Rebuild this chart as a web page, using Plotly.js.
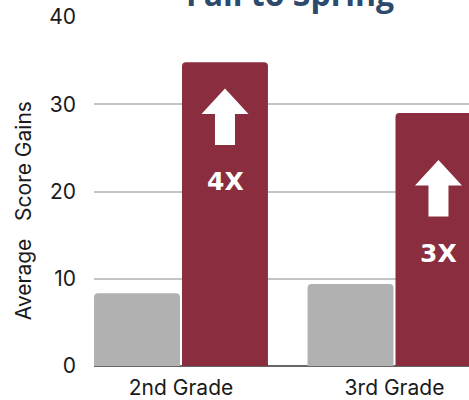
<!DOCTYPE html>
<html><head><meta charset="utf-8">
<script src="https://cdn.plot.ly/plotly-3.0.1.min.js"></script>
<style>html,body{margin:0;padding:0;background:#fff}</style>
</head><body>
<div id="chart" style="width:469px;height:400px"></div>
<script>
const categories = ['2nd Grade', '3rd Grade'];
const comparisonGains = [8.35, 9.4];
const programGains = [34.8, 29.0];
const multiplierLabels = ['4X', '3X'];
const arrowTipY = [31.8, 23.6];
const labelY = [21.1, 12.9];
const yAxisTitle = 'Average   Score Gains';

const RED = '#8a2e3f';
const GRAY = '#b1b1b1';
const FONT = 'Inter, sans-serif';

const traces = [
  {type:'bar', x:categories, y:comparisonGains, marker:{color:GRAY, cornerradius:4}, hoverinfo:'skip', showlegend:false},
  {type:'bar', x:categories, y:programGains, marker:{color:RED, cornerradius:4}, hoverinfo:'skip', showlegend:false}
];

const arrowPath = 'M0,0 L23.5,-25.5 L10,-25.5 L10,-56.5 L-10,-56.5 L-10,-25.5 L-23.5,-25.5 Z';
const shapes = categories.map((c,i)=>({
  type:'path', xref:'x', yref:'y', xsizemode:'pixel', ysizemode:'pixel',
  xanchor:i+0.206, yanchor:arrowTipY[i],
  path:arrowPath, fillcolor:'#ffffff', line:{width:0}, layer:'above'
}));

const annotations = categories.map((c,i)=>({
  x:c, y:labelY[i], xref:'x', yref:'y', xshift:44, text:'<b>'+multiplierLabels[i]+'</b>',
  showarrow:false, font:{family:'DejaVu Sans, sans-serif', size:25, color:'#ffffff'},
  xanchor:'center', yanchor:'middle'
}));
annotations.push({
  text:yAxisTitle, xref:'paper', yref:'paper', x:-0.189, y:0.444, textangle:-90,
  showarrow:false, xanchor:'center', yanchor:'middle',
  font:{family:FONT, size:21, color:'#1a1a1a'}
});

const layout = {
  width:469, height:400,
  margin:{l:94, r:0, t:17, b:34},
  paper_bgcolor:'#ffffff', plot_bgcolor:'#ffffff',
  barmode:'group', bargap:0.176, bargroupgap:0.023,
  title:{text:'<b>Fall to Spring</b>', font:{family:'Open Sans, sans-serif', size:32, color:'#2c4a6e'},
    xref:'paper', x:0.523, xanchor:'center', yref:'container', y:0.986, yanchor:'bottom'},
  xaxis:{range:[-0.4075, 1.349], showgrid:false, zeroline:false, showline:false,
    ticklabelstandoff:7,
    tickfont:{family:FONT, size:21, color:'#1a1a1a'}, ticks:''},
  yaxis:{range:[0,40], tickvals:[0,10,20,30,40], showgrid:true, gridcolor:'#c4c4c4', gridwidth:2,
    zeroline:true, zerolinecolor:'#666666', zerolinewidth:1.5, showline:false,
    ticks:'', ticklabelstandoff:17,
    tickfont:{family:FONT, size:21, color:'#1a1a1a'}},
  shapes:shapes, annotations:annotations
};
Plotly.newPlot('chart', traces, layout, {displayModeBar:false, staticPlot:true});
</script>
</body></html>
